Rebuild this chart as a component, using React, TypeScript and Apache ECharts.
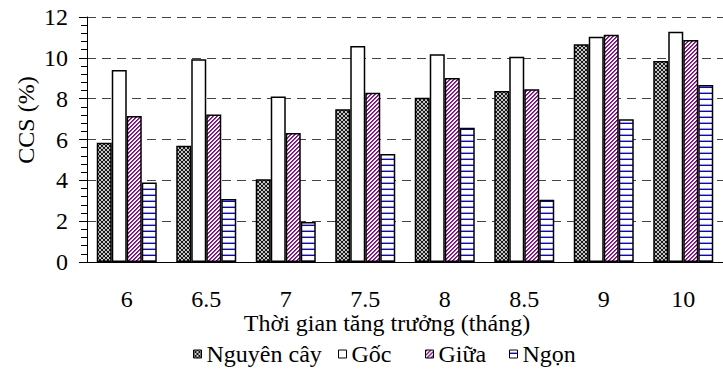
import React, { useEffect, useRef } from "react";
import * as echarts from "echarts";

// Growth time (months) on the category axis
const categories = ["6", "6.5", "7", "7.5", "8", "8.5", "9", "10"];

// CCS (%) for each plant part
const nguyenCay = [5.84, 5.7, 4.05, 7.48, 8.05, 8.37, 10.66, 9.84];
const goc = [9.4, 9.93, 8.11, 10.58, 10.17, 10.05, 11.03, 11.28];
const giua = [7.15, 7.23, 6.32, 8.29, 9.01, 8.46, 11.13, 10.87];
const ngon = [3.9, 3.08, 1.96, 5.29, 6.58, 3.05, 6.99, 8.67];

const seriesNames = ["Nguyên cây", "Gốc", "Giữa", "Ngọn"];

const yMin = 0;
const yMax = 12;
const yStep = 2;

const FONT = "Liberation Serif";

type Paint = (ctx: CanvasRenderingContext2D, w: number, h: number) => void;

function tile(w: number, h: number, paint: Paint) {
  const c = document.createElement("canvas");
  c.width = w;
  c.height = h;
  const ctx = c.getContext("2d") as CanvasRenderingContext2D;
  paint(ctx, w, h);
  return { image: c, repeat: "repeat", imageWidth: w, imageHeight: h } as any;
}

// dark fill with small light rings
const ringPattern = () =>
  tile(4, 4, (ctx) => {
    ctx.fillStyle = "#1a1a1a";
    ctx.fillRect(0, 0, 4, 4);
    ctx.fillStyle = "#c4c4c4";
    const px: [number, number][] = [
      [1, 0], [2, 0], [0, 1], [3, 1], [0, 2], [3, 2], [1, 3], [2, 3],
    ];
    px.forEach(([x, y]) => ctx.fillRect(x, y, 1, 1));
  });

// purple diagonal stripes rising to the right
const diagPattern = () =>
  tile(4, 4, (ctx) => {
    ctx.fillStyle = "#ffffff";
    ctx.fillRect(0, 0, 4, 4);
    for (let y = 0; y < 4; y++) {
      for (let x = 0; x < 4; x++) {
        const k = (x + y) % 4;
        if (k === 0) {
          ctx.fillStyle = "#880088";
          ctx.fillRect(x, y, 1, 1);
        } else if (k === 1) {
          ctx.fillStyle = "#a030a0";
          ctx.fillRect(x, y, 1, 1);
        }
      }
    }
  });

// blue horizontal rules on white
const rulePattern = () =>
  tile(4, 6, (ctx) => {
    ctx.fillStyle = "#ffffff";
    ctx.fillRect(0, 0, 4, 6);
    ctx.fillStyle = "#9a9aff";
    ctx.fillRect(0, 2, 4, 1);
    ctx.fillStyle = "#0000ff";
    ctx.fillRect(0, 3, 4, 1);
  });

export default function App() {
  const ref = useRef<HTMLDivElement>(null);

  useEffect(() => {
    if (!ref.current) return;
    const chart = echarts.init(ref.current, undefined, { renderer: "svg" });

    const fills = [ringPattern(), "#ffffff", diagPattern(), rulePattern()];
    const values = [nguyenCay, goc, giua, ngon];
    const legendLeft = [193, 338, 425, 509];

    const option: any = {
      animation: false,
      backgroundColor: "#ffffff",
      textStyle: { fontFamily: FONT },
      grid: { left: 87, right: -7, top: 17, bottom: 114, containLabel: false },
      legend: seriesNames.map((name, i) => ({
        data: [name],
        left: legendLeft[i],
        top: 342,
        padding: 0,
        itemWidth: 8,
        itemHeight: 8,
        icon: "rect",
        itemStyle: { borderColor: "#000", borderWidth: 1 },
        textStyle: { fontFamily: FONT, fontSize: 24, color: "#000" },
      })),
      xAxis: {
        type: "category",
        data: categories,
        axisLine: { lineStyle: { color: "#000", width: 1 } },
        axisTick: { length: 8, lineStyle: { color: "#000" } },
        axisLabel: {
          margin: 25,
          fontFamily: FONT,
          fontSize: 24,
          color: "#000",
        },
        splitLine: { show: false },
      },
      yAxis: {
        type: "value",
        min: yMin,
        max: yMax,
        interval: yStep,
        axisLine: { show: true, lineStyle: { color: "#000", width: 1 } },
        axisTick: { show: true, length: 8, lineStyle: { color: "#000" } },
        minorTick: {
          show: true,
          splitNumber: 5,
          length: 6,
          lineStyle: { color: "#000" },
        },
        axisLabel: {
          margin: 19,
          fontFamily: FONT,
          fontSize: 24,
          color: "#000",
        },
        splitLine: {
          show: true,
          lineStyle: { color: "#444", width: 1, type: [9, 6] },
        },
      },
      graphic: [
        {
          type: "text",
          x: 26,
          y: 120,
          rotation: Math.PI / 2,
          style: {
            text: "CCS (%)",
            fontFamily: FONT,
            fontSize: 24,
            fill: "#000",
            align: "center",
            verticalAlign: "middle",
          },
        },
        {
          type: "text",
          x: 387,
          y: 323,
          style: {
            text: "Thời gian tăng trưởng (tháng)",
            fontFamily: FONT,
            fontSize: 24,
            fill: "#000",
            align: "center",
            verticalAlign: "middle",
          },
        },
      ],
      series: seriesNames.map((name, i) => ({
        type: "bar",
        name,
        data: values[i],
        barWidth: 15,
        barGap: "0%",
        itemStyle: {
          color: fills[i],
          borderColor: "#000",
          borderWidth: 1.5,
        },
        emphasis: { disabled: true },
      })),
    };

    chart.setOption(option);
    return () => chart.dispose();
  }, []);

  return (
    <div
      ref={ref}
      style={{ position: "fixed", left: 0, top: 0, width: 723, height: 376 }}
    />
  );
}
